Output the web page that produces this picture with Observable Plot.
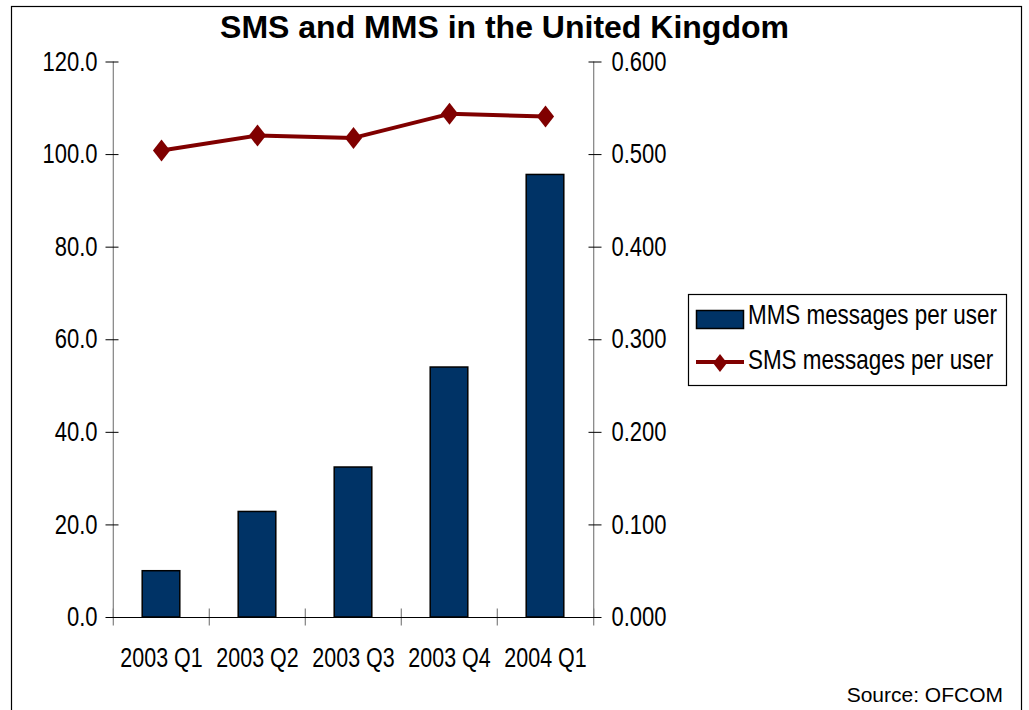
<!DOCTYPE html>
<html>
<head>
<meta charset="utf-8">
<script src="https://cdn.jsdelivr.net/npm/d3@7"></script>
<script src="https://cdn.jsdelivr.net/npm/@observablehq/plot@0.6"></script>
<style>
  html, body { margin: 0; padding: 0; background: #fff; }
  #wrap { position: relative; width: 1029px; height: 710px; overflow: hidden; background: #fff; }
  #wrap svg { position: absolute; left: 0; top: 0; }
</style>
</head>
<body>
<div id="wrap"></div>
<script>
// ---- data ----
const categories = ["2003 Q1", "2003 Q2", "2003 Q3", "2003 Q4", "2004 Q1"];
const mmsPerUser = [0.050, 0.114, 0.162, 0.270, 0.478];   // right axis
const smsPerUser = [100.9, 104.1, 103.6, 108.8, 108.2];   // left axis
const leftTicks = [0, 20, 40, 60, 80, 100, 120];
const rightTicks = [0, 0.1, 0.2, 0.3, 0.4, 0.5, 0.6];
const seriesNames = ["MMS messages per user", "SMS messages per user"];
const titleText = "SMS and MMS in the United Kingdom";
const sourceText = "Source: OFCOM";

// ---- styles ----
const SANS = '"Liberation Sans", Arial, sans-serif';
const barColor = "#003366";
const lineColor = "#800000";
const ratio = leftTicks[leftTicks.length - 1] / rightTicks[rightTicks.length - 1]; // 200

const rows = categories.map((c, i) => ({cat: c, mms: mmsPerUser[i], sms: smsPerUser[i]}));

const W = 1029, H = 710;
const mL = 112, mR = 435, mT = 61.5, mB = 93;
const step = (W - mL - mR) / categories.length;
const half = step / 2;
const barW = 38;

// custom diamond (taller than wide)
const diamond = {
  draw(ctx, size) {
    const r = Math.sqrt(size / Math.PI);
    const hw = r * 0.78;
    ctx.moveTo(0, -r); ctx.lineTo(hw, 0); ctx.lineTo(0, r); ctx.lineTo(-hw, 0); ctx.closePath();
  }
};

const pxPerUnit = (H - mT - mB) / 120;
const tickHalf = 8.5 / pxPerUnit;

const chart = Plot.plot({
  width: W, height: H,
  marginLeft: mL, marginRight: mR, marginTop: mT, marginBottom: mB,
  style: {fontFamily: SANS, fontSize: "27px", color: "#000", background: "transparent", overflow: "visible"},
  x: {type: "band", domain: categories, padding: 0, axis: null},
  y: {domain: [0, 120], axis: null},
  marks: [
    Plot.barY(rows, {x: "cat", y: d => d.mms * ratio, fill: barColor, stroke: "#000", strokeWidth: 1.5,
      insetLeft: (step - barW) / 2, insetRight: (step - barW) / 2}),
    Plot.ruleX([categories[0]], {x: d => d, dx: -half, y1: 0, y2: 120, stroke: "#808080", strokeWidth: 1.2}),
    Plot.ruleX([categories[categories.length - 1]], {x: d => d, dx: half, y1: 0, y2: 120, stroke: "#808080", strokeWidth: 1.2}),
    Plot.ruleX(categories, {x: d => d, dx: -half, y1: -tickHalf, y2: tickHalf, stroke: "#808080", strokeWidth: 1.2}),
    Plot.ruleX([categories[categories.length - 1]], {x: d => d, dx: half, y1: -tickHalf, y2: tickHalf, stroke: "#808080", strokeWidth: 1.2}),
    Plot.ruleY([0], {stroke: "#000", strokeWidth: 1.2}),
    Plot.axisY(leftTicks, {anchor: "left", tickSize: 13, dx: 6.5, fill: "none", stroke: "#000", label: null}),
    Plot.axisY(leftTicks, {anchor: "left", tickSize: 0, tickPadding: 15, tickFormat: d => d.toFixed(1), fill: "#000", label: null}),
    Plot.axisY(rightTicks.map(t => t * ratio), {anchor: "right", tickSize: 13, dx: -6.5, fill: "none", stroke: "#000", label: null}),
    Plot.axisY(rightTicks.map(t => t * ratio), {anchor: "right", tickSize: 0, tickPadding: 17, tickFormat: d => (d / ratio).toFixed(3), fill: "#000", label: null}),
    Plot.axisX(categories, {anchor: "bottom", tickSize: 0, tickPadding: 30, fill: "#000", label: null}),
    Plot.line(rows, {x: "cat", y: "sms", stroke: lineColor, strokeWidth: 4}),
    Plot.dot(rows, {x: "cat", y: "sms", symbol: diamond, r: 11, fill: lineColor, stroke: "none"})
  ]
});

// condense tick-label glyphs horizontally (the reference uses a narrow face)
function squeeze(t, s) {
  const x = parseFloat(t.getAttribute("x")) || 0;
  const tr = t.getAttribute("transform") || "";
  t.setAttribute("transform", `${tr} translate(${x},0) scale(${s},1) translate(${-x},0)`);
}
chart.querySelectorAll('[aria-label="y-axis tick label"] text').forEach(t => squeeze(t, 0.815));
chart.querySelectorAll('[aria-label="x-axis tick label"] text').forEach(t => squeeze(t, 0.795));
document.getElementById("wrap").appendChild(chart);

// ---- overlay: frame, title, legend, source ----
const ov = d3.select("#wrap").append("svg").attr("width", W).attr("height", H);
ov.append("rect").attr("x", 11.5).attr("y", 6.5).attr("width", 1010).attr("height", 730)
  .attr("fill", "none").attr("stroke", "#000").attr("stroke-width", 1.2);
ov.append("text").attr("x", 504.5).attr("y", 38).attr("text-anchor", "middle")
  .attr("font-family", SANS).attr("font-weight", "bold").attr("font-size", 32).attr("fill", "#000").text(titleText);
ov.append("text").attr("x", 1003).attr("y", 701.5).attr("text-anchor", "end")
  .attr("font-family", SANS).attr("font-size", 21).attr("fill", "#000").text(sourceText);

const lg = ov.append("g");
lg.append("rect").attr("x", 688.5).attr("y", 294.5).attr("width", 318).attr("height", 91)
  .attr("fill", "#fff").attr("stroke", "#000").attr("stroke-width", 1.2);
lg.append("rect").attr("x", 696.5).attr("y", 310.5).attr("width", 47).attr("height", 18)
  .attr("fill", barColor).attr("stroke", "#000").attr("stroke-width", 1.5);
lg.append("text").attr("transform", "translate(748,324) scale(0.83,1)").attr("font-family", SANS).attr("font-size", 27)
  .attr("fill", "#000").text(seriesNames[0]);
lg.append("line").attr("x1", 696).attr("x2", 744).attr("y1", 362).attr("y2", 362)
  .attr("stroke", lineColor).attr("stroke-width", 4);
lg.append("path").attr("transform", "translate(720,363)")
  .attr("d", d3.symbol(diamond, Math.PI * 9 * 9)())
  .attr("fill", lineColor);
lg.append("text").attr("transform", "translate(748,369) scale(0.83,1)").attr("font-family", SANS).attr("font-size", 27)
  .attr("fill", "#000").text(seriesNames[1]);
</script>
</body>
</html>
